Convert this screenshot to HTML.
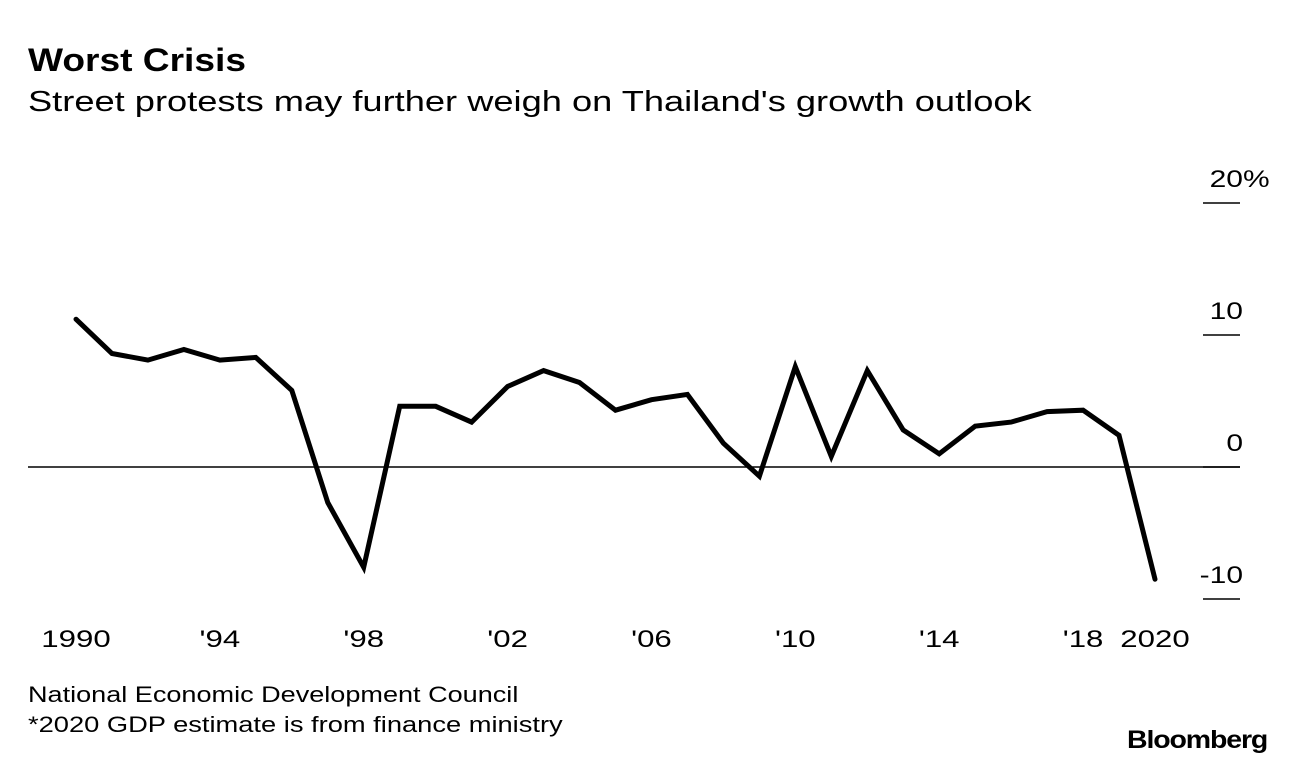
<!DOCTYPE html>
<html><head><meta charset="utf-8"><style>
body{margin:0;background:#fff;font-family:"Liberation Sans",sans-serif;color:#000}
#wrap{position:relative;width:1296px;height:766px;overflow:hidden}
.t{position:absolute;white-space:nowrap;transform-origin:0 0}
</style></head><body>
<div id="wrap">
<div class="t" style="left:28px;top:42px;font-size:32px;font-weight:bold;transform:scaleX(1.16)">Worst Crisis</div>
<div class="t" style="left:28px;top:86px;font-size:29px;transform:scaleX(1.25)">Street protests may further weigh on Thailand's growth outlook</div>
<svg id="chart" width="1296" height="766" style="position:absolute;left:0;top:0"></svg>
<div class="t" style="left:28px;top:682px;font-size:22px;transform:scaleX(1.23)">National Economic Development Council</div>
<div class="t" style="left:28px;top:712px;font-size:22px;transform:scaleX(1.24)">*2020 GDP estimate is from finance ministry</div>
<div class="t" style="left:1127px;top:726px;font-size:25px;font-weight:bold;letter-spacing:-1px;transform:scaleX(1.14)">Bloomberg</div>
</div>
<script>
const years=[1990,1991,1992,1993,1994,1995,1996,1997,1998,1999,2000,2001,2002,2003,2004,2005,2006,2007,2008,2009,2010,2011,2012,2013,2014,2015,2016,2017,2018,2019,2020];
const gdp=[11.2,8.6,8.1,8.9,8.1,8.3,5.8,-2.7,-7.6,4.6,4.6,3.4,6.1,7.3,6.4,4.3,5.1,5.5,1.8,-0.7,7.6,0.8,7.3,2.8,1.0,3.1,3.4,4.2,4.3,2.4,-8.5];
const yTicks=[20,10,0,-10];
const yTickLabels=["20","10","0","-10"];
const xTicks=[1990,1994,1998,2002,2006,2010,2014,2018,2020];
const xTickLabels=["1990","'94","'98","'02","'06","'10","'14","'18","2020"];
const NS="http://www.w3.org/2000/svg";
const svg=document.getElementById('chart');
function x(v){return 76+(v-1990)*(1155-76)/30;}
function y(v){return 467-v*13.2;}
function mk(tag,attrs){const e=document.createElementNS(NS,tag);for(const k in attrs)e.setAttribute(k,attrs[k]);svg.appendChild(e);return e;}
yTicks.forEach((v,i)=>{
  const l=mk('line',{x1:1203,x2:1240,y1:y(v),y2:y(v),stroke:'#000','stroke-width':1.5});
  
  
  const g=mk('g',{transform:'translate(1243,'+(y(v)-16)+') scale(1.25,1)'});
  const t=document.createElementNS(NS,'text');
  t.setAttribute('text-anchor','end');t.setAttribute('font-size','24');t.setAttribute('font-family','Liberation Sans, sans-serif');
  t.textContent=yTickLabels[i];
  
  
  g.appendChild(t);
  if(i===0){const p=document.createElementNS(NS,'text');p.setAttribute('font-size','24');p.setAttribute('font-family','Liberation Sans, sans-serif');p.textContent='%';
    
    
    g.appendChild(p);}
});
const z=mk('line',{x1:28,x2:1240,y1:y(0),y2:y(0),stroke:'#000','stroke-width':1.5});


xTicks.forEach((v,i)=>{
  const g=mk('g',{transform:'translate('+x(v)+',647) scale(1.3,1)'});
  const t=document.createElementNS(NS,'text');
  t.setAttribute('text-anchor','middle');t.setAttribute('font-size','24');t.setAttribute('font-family','Liberation Sans, sans-serif');
  t.textContent=xTickLabels[i];
  
  
  g.appendChild(t);
});
const d=years.map((yr,i)=>(i?'L':'M')+x(yr).toFixed(1)+','+y(gdp[i]).toFixed(1)).join(' ');
const p=mk('path',{d:d,fill:'none',stroke:'#000','stroke-width':5,'stroke-linejoin':'miter','stroke-linecap':'round'});


</script>
</body></html>
